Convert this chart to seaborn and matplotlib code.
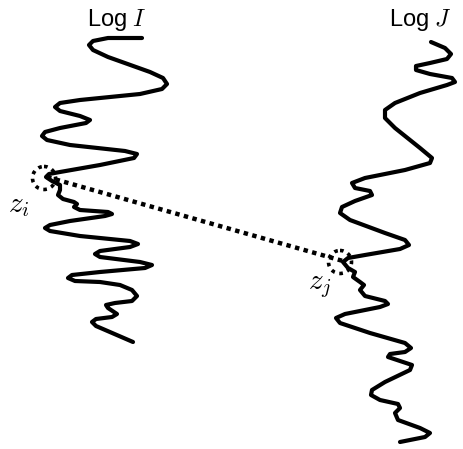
import matplotlib
matplotlib.use("Agg")
import matplotlib.pyplot as plt
import seaborn as sns
import pandas as pd
from matplotlib.patches import Circle

sns.set_theme(style="white")
plt.rcParams['font.family'] = ['Liberation Sans', 'DejaVu Sans']
plt.rcParams['mathtext.fontset'] = 'cm'

# Log I trace (horizontal value, depth)
log_i_x = [142, 108, 93, 89, 93, 108, 150, 163, 167, 162, 140, 80, 60, 55, 60, 80, 90, 86,
           60, 45, 42, 47, 70, 125, 137, 134, 100, 60, 49, 46, 52, 60, 60, 58, 63, 74, 77,
           74, 80, 108, 112, 105, 70, 50, 45, 50, 80, 130, 138, 130, 100, 95, 100, 140, 152,
           145, 100, 72, 68, 75, 100, 120, 132, 137, 132, 115, 106, 108, 117, 112, 96, 92,
           96, 133]
log_i_depth = [38, 38, 41, 45, 50, 57, 72, 78, 84, 89, 94, 100, 103, 107, 111, 116, 120, 123,
               128, 132, 136, 140, 145, 151, 154, 158, 165, 172, 174, 177, 181, 185, 190, 195,
               199, 202, 204, 207, 210, 212, 214, 216, 221, 225, 228, 231, 236, 241, 244, 247,
               251, 254, 257, 262, 265, 268, 272, 275, 278, 281, 282, 285, 290, 296, 301, 303,
               305, 308, 314, 317, 319, 322, 326, 342]

# Log J trace
log_j_x = [431, 445, 451, 447, 430, 416, 416, 430, 452, 455, 447, 420, 395, 385, 385, 395,
           420, 432, 430, 405, 365, 352, 355, 370, 372, 355, 342, 340, 350, 385, 405, 409,
           400, 365, 348, 343, 348, 355, 353, 360, 364, 360, 365, 385, 388, 380, 345, 336,
           340, 370, 405, 411, 405, 390, 388, 400, 412, 410, 385, 372, 371, 380, 398, 400,
           395, 398, 420, 430, 425, 400]
log_j_depth = [42, 48, 54, 59, 63, 66, 70, 74, 78, 82, 85, 93, 103, 110, 118, 128, 148, 158,
               163, 170, 178, 183, 188, 191, 195, 201, 207, 213, 220, 233, 240, 245, 249, 255,
               258, 262, 268, 272, 277, 282, 285, 290, 296, 301, 304, 307, 314, 318, 323, 333,
               343, 348, 352, 354, 357, 361, 365, 370, 382, 390, 395, 400, 404, 408, 413, 420,
               428, 433, 437, 442]

# correlated points z_i, z_j
tie_x = [47, 343]
tie_depth = [177, 261]

labels = ["Log $I$", "Log $J$"]
label_x = [117, 420]
point_labels = ["$z_i$", "$z_j$"]
point_label_x = [19, 320]
point_label_depth = [205, 286]

fig = plt.figure(figsize=(4.63, 4.49), dpi=100)
ax = fig.add_axes([0, 0, 1, 1])

df_i = pd.DataFrame({"x": log_i_x, "d": log_i_depth})
df_j = pd.DataFrame({"x": log_j_x, "d": log_j_depth})
df_t = pd.DataFrame({"x": tie_x, "d": tie_depth})

for df in (df_i, df_j):
    sns.lineplot(data=df, x="x", y="d", sort=False, estimator=None, ax=ax,
                 color="black", lw=3.0, solid_joinstyle="round", solid_capstyle="round")

sns.lineplot(data=df_t, x="x", y="d", sort=False, estimator=None, ax=ax,
             color="black", lw=3.2, linestyle=(0, (1, 1.0)))

for x, d in zip(tie_x, tie_depth):
    ax.add_patch(Circle((x - 3, d + 1), 11.5, fill=False, ec="black", lw=2.6,
                        linestyle=(0, (1, 1.3))))

for lab, x in zip(labels, label_x):
    ax.text(x, 26, lab, ha="center", va="baseline", fontsize=17, color="black")

for lab, x, d in zip(point_labels, point_label_x, point_label_depth):
    ax.text(x, d, lab, ha="center", va="center", fontsize=21, color="black")

ax.set_xlim(0, 463)
ax.set_ylim(449, 0)
ax.set_axis_off()

fig.savefig("out.png", dpi=100, facecolor="white")
